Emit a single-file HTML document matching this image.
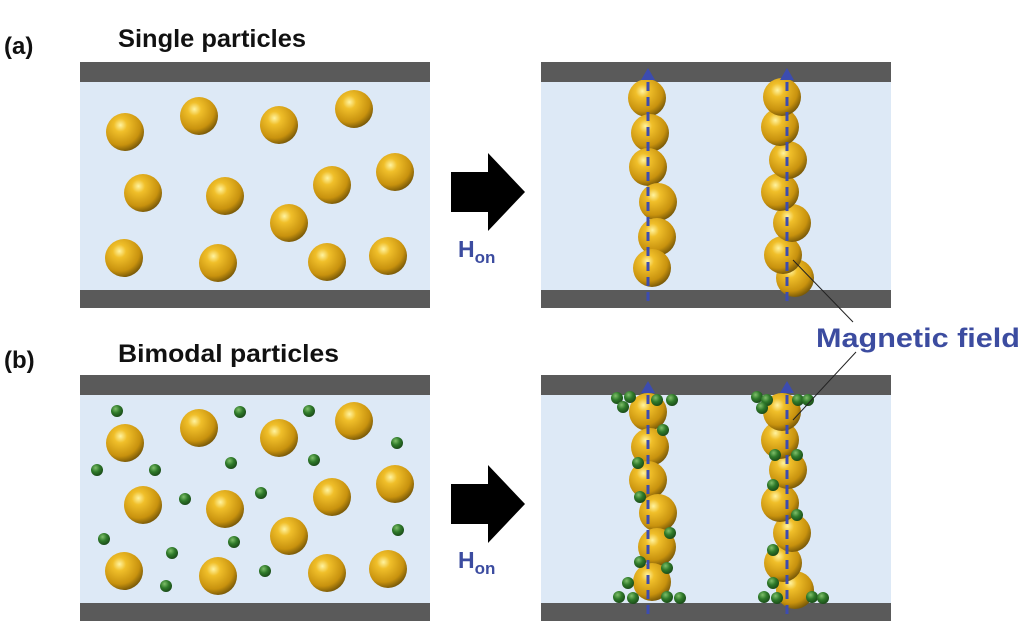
<!DOCTYPE html>
<html><head><style>
html,body{margin:0;padding:0;background:#fff;width:1034px;height:627px;overflow:hidden}
svg text{font-family:"Liberation Sans",sans-serif;font-weight:bold}
</style></head><body>
<svg width="1034" height="627" viewBox="0 0 1034 627" xmlns="http://www.w3.org/2000/svg">
<defs>
<radialGradient id="g" cx="0.38" cy="0.32" r="0.7">
<stop offset="0" stop-color="#fff3a0"/><stop offset="0.25" stop-color="#f0bf2a"/><stop offset="0.75" stop-color="#c8920e"/><stop offset="1" stop-color="#7a5a08"/>
</radialGradient>
<radialGradient id="gr" cx="0.38" cy="0.32" r="0.7">
<stop offset="0" stop-color="#7fbf6a"/><stop offset="0.5" stop-color="#2f7a2a"/><stop offset="1" stop-color="#1a4a18"/>
</radialGradient>
</defs>
<text x="4" y="54" font-size="24" fill="#111">(a)</text>
<text x="118" y="47" font-size="25" fill="#111" textLength="188" lengthAdjust="spacingAndGlyphs">Single particles</text>
<text x="4" y="368" font-size="24" fill="#111">(b)</text>
<text x="118" y="362" font-size="25" fill="#111" textLength="221" lengthAdjust="spacingAndGlyphs">Bimodal particles</text>
<text x="816" y="347" font-size="27" fill="#3c4ca0" textLength="204" lengthAdjust="spacingAndGlyphs">Magnetic field</text>
<g fill="#dde9f6"><rect x="80" y="82" width="350" height="208"/><rect x="541" y="82" width="350" height="208"/><rect x="80" y="395" width="350" height="208"/><rect x="541" y="395" width="350" height="208"/></g>
<g fill="#5a5a5a"><rect x="80" y="62" width="350" height="20"/><rect x="80" y="290" width="350" height="18"/><rect x="541" y="62" width="350" height="20"/><rect x="541" y="290" width="350" height="18"/>
<rect x="80" y="375" width="350" height="20"/><rect x="80" y="603" width="350" height="18"/><rect x="541" y="375" width="350" height="20"/><rect x="541" y="603" width="350" height="18"/></g>
<g fill="#000"><polygon points="451,172 488,172 488,153 525,192 488,231 488,212 451,212"/><polygon points="451,484 488,484 488,465 525,504 488,543 488,524 451,524"/></g>
<text x="458" y="257" font-size="23" fill="#3c4ca0">H<tspan font-size="17" dy="6">on</tspan></text>
<text x="458" y="568" font-size="23" fill="#3c4ca0">H<tspan font-size="17" dy="6">on</tspan></text>
<g fill="url(#g)">
<circle cx="125" cy="132" r="19"/><circle cx="199" cy="116" r="19"/><circle cx="279" cy="125" r="19"/><circle cx="354" cy="109" r="19"/><circle cx="143" cy="193" r="19"/><circle cx="225" cy="196" r="19"/><circle cx="332" cy="185" r="19"/><circle cx="395" cy="172" r="19"/><circle cx="289" cy="223" r="19"/><circle cx="124" cy="258" r="19"/><circle cx="218" cy="263" r="19"/><circle cx="327" cy="262" r="19"/><circle cx="388" cy="256" r="19"/>
<circle cx="125" cy="443" r="19"/><circle cx="199" cy="428" r="19"/><circle cx="279" cy="438" r="19"/><circle cx="354" cy="421" r="19"/><circle cx="143" cy="505" r="19"/><circle cx="225" cy="509" r="19"/><circle cx="332" cy="497" r="19"/><circle cx="395" cy="484" r="19"/><circle cx="289" cy="536" r="19"/><circle cx="124" cy="571" r="19"/><circle cx="218" cy="576" r="19"/><circle cx="327" cy="573" r="19"/><circle cx="388" cy="569" r="19"/>
<circle cx="647" cy="98" r="19"/><circle cx="650" cy="133" r="19"/><circle cx="648" cy="167" r="19"/><circle cx="658" cy="202" r="19"/><circle cx="657" cy="237" r="19"/><circle cx="652" cy="268" r="19"/>
<circle cx="795" cy="278" r="19"/><circle cx="783" cy="255" r="19"/><circle cx="792" cy="223" r="19"/><circle cx="780" cy="192" r="19"/><circle cx="788" cy="160" r="19"/><circle cx="780" cy="127" r="19"/><circle cx="782" cy="97" r="19"/>
<circle cx="648" cy="412" r="19"/><circle cx="650" cy="447" r="19"/><circle cx="648" cy="480" r="19"/><circle cx="658" cy="513" r="19"/><circle cx="657" cy="547" r="19"/><circle cx="652" cy="582" r="19"/>
<circle cx="795" cy="590" r="19"/><circle cx="783" cy="563" r="19"/><circle cx="792" cy="533" r="19"/><circle cx="780" cy="503" r="19"/><circle cx="788" cy="470" r="19"/><circle cx="780" cy="440" r="19"/><circle cx="782" cy="412" r="19"/>
</g>
<g fill="url(#gr)">
<circle cx="117" cy="411" r="6"/><circle cx="240" cy="412" r="6"/><circle cx="309" cy="411" r="6"/><circle cx="397" cy="443" r="6"/><circle cx="97" cy="470" r="6"/><circle cx="155" cy="470" r="6"/><circle cx="231" cy="463" r="6"/><circle cx="314" cy="460" r="6"/><circle cx="185" cy="499" r="6"/><circle cx="261" cy="493" r="6"/><circle cx="104" cy="539" r="6"/><circle cx="234" cy="542" r="6"/><circle cx="398" cy="530" r="6"/><circle cx="172" cy="553" r="6"/><circle cx="265" cy="571" r="6"/><circle cx="166" cy="586" r="6"/>
<circle cx="617" cy="398" r="6"/><circle cx="623" cy="407" r="6"/><circle cx="630" cy="397" r="6"/><circle cx="657" cy="400" r="6"/><circle cx="672" cy="400" r="6"/><circle cx="663" cy="430" r="6"/><circle cx="638" cy="463" r="6"/><circle cx="640" cy="497" r="6"/><circle cx="670" cy="533" r="6"/><circle cx="640" cy="562" r="6"/><circle cx="667" cy="568" r="6"/><circle cx="628" cy="583" r="6"/><circle cx="619" cy="597" r="6"/><circle cx="633" cy="598" r="6"/><circle cx="667" cy="597" r="6"/><circle cx="680" cy="598" r="6"/>
<circle cx="757" cy="397" r="6"/><circle cx="767" cy="400" r="6"/><circle cx="762" cy="408" r="6"/><circle cx="798" cy="400" r="6"/><circle cx="808" cy="400" r="6"/><circle cx="775" cy="455" r="6"/><circle cx="797" cy="455" r="6"/><circle cx="773" cy="485" r="6"/><circle cx="797" cy="515" r="6"/><circle cx="773" cy="550" r="6"/><circle cx="773" cy="583" r="6"/><circle cx="764" cy="597" r="6"/><circle cx="777" cy="598" r="6"/><circle cx="812" cy="597" r="6"/><circle cx="823" cy="598" r="6"/>
</g>
<g stroke="#3c4cb0" stroke-width="3" stroke-dasharray="9,6" fill="none">
<line x1="648" y1="82" x2="648" y2="302"/><line x1="787" y1="82" x2="787" y2="302"/>
<line x1="648" y1="395" x2="648" y2="615"/><line x1="787" y1="395" x2="787" y2="615"/>
</g>
<g fill="#3c4cb0"><polygon points="648,68 641,80 655,80"/><polygon points="787,68 780,80 794,80"/><polygon points="648,381 641,393 655,393"/><polygon points="787,381 780,393 794,393"/></g>
<g stroke="#222" stroke-width="1"><line x1="793" y1="260" x2="853" y2="322"/><line x1="793" y1="420" x2="856" y2="352"/></g>
</svg>
</body></html>
